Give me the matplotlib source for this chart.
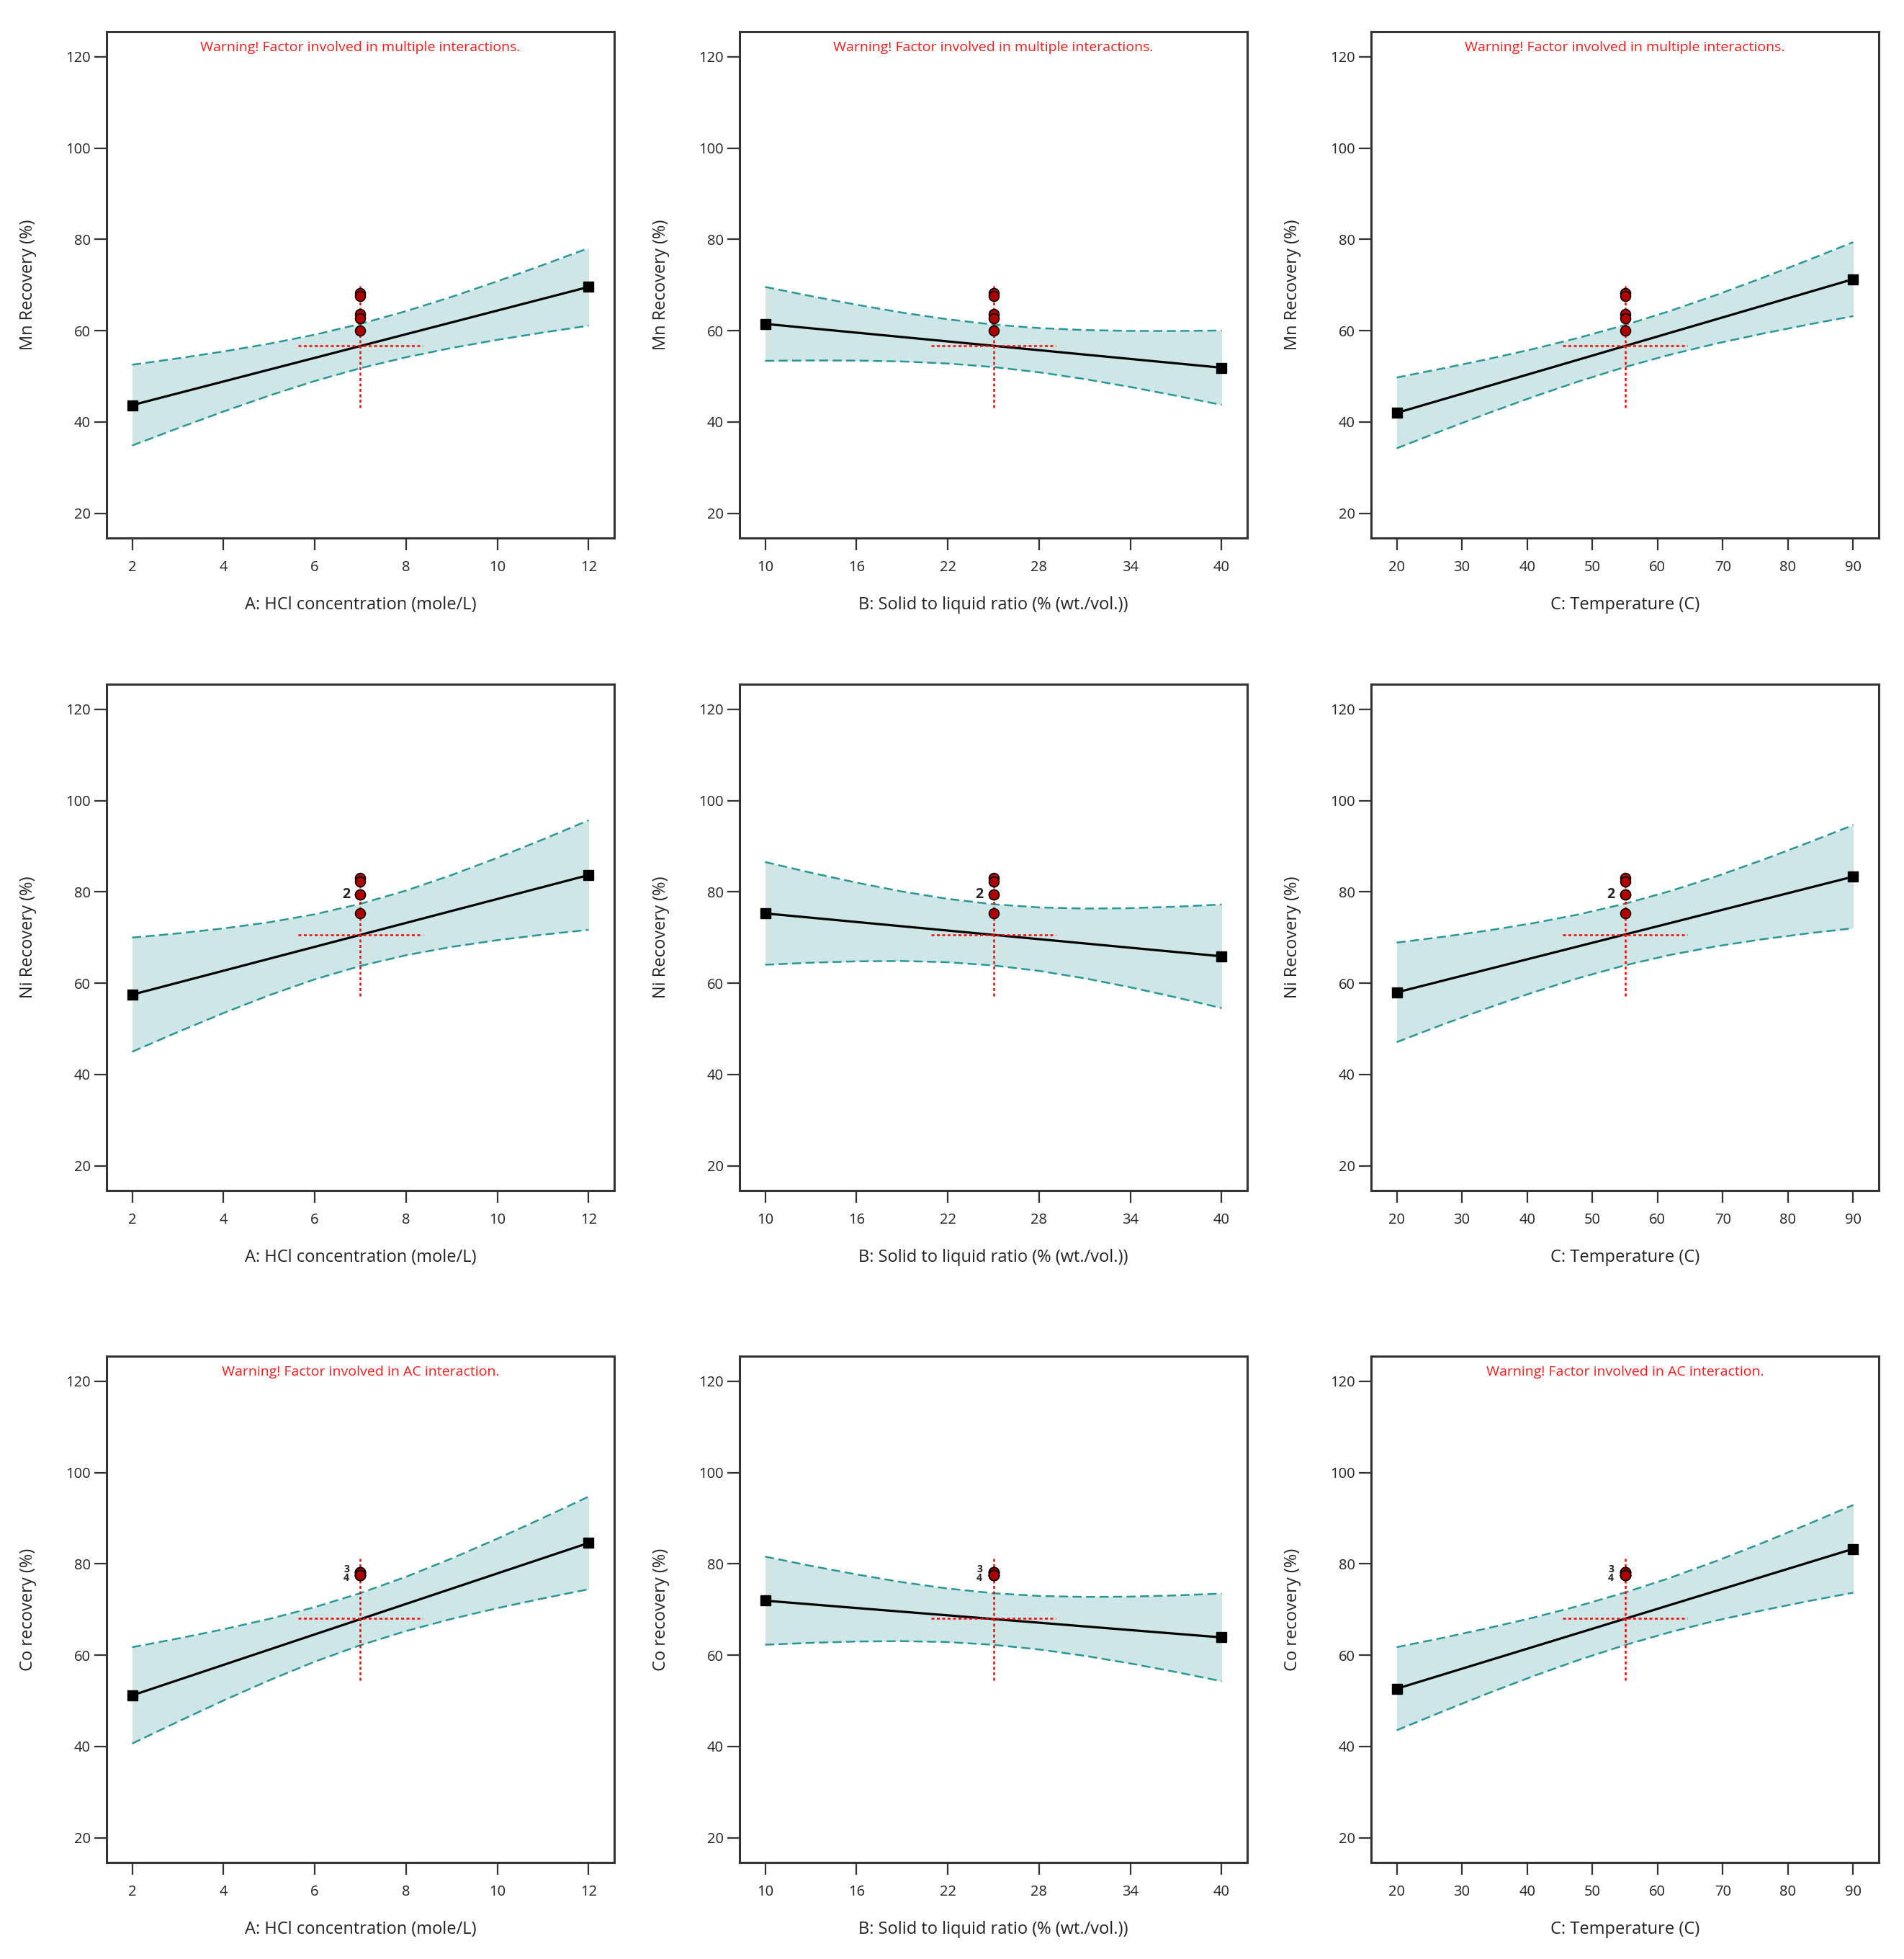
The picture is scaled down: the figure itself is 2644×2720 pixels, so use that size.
import matplotlib
matplotlib.use('Agg')
import matplotlib.pyplot as plt

plt.rcParams['font.family'] = ['Open Sans', 'DejaVu Sans']

# factor settings (band sample points along each factor)
a_x = [2, 3, 4, 5, 6, 7, 8, 9, 10, 11, 12]
b_x = [10, 13, 16, 19, 22, 25, 28, 31, 34, 37, 40]
c_x = [20, 27, 34, 41, 48, 55, 62, 69, 76, 83, 90]

a_ticks = [2, 4, 6, 8, 10, 12]
b_ticks = [10, 16, 22, 28, 34, 40]
c_ticks = [20, 30, 40, 50, 60, 70, 80, 90]
y_ticks = [20, 40, 60, 80, 100, 120]

x_labels = ['A: HCl concentration (mole/L)',
            'B: Solid to liquid ratio (% (wt./vol.))',
            'C: Temperature (C)']
y_labels = ['Mn Recovery (%)', 'Ni Recovery (%)', 'Co recovery (%)']
centres = [7, 25, 55]

# predicted line end values (low, high) per response / factor
mn_line = [[43.7, 69.6], [61.5, 51.9], [42.0, 71.3]]
ni_line = [[57.5, 83.7], [75.3, 65.9], [58.0, 83.35]]
co_line = [[51.2, 84.6], [71.95, 63.9], [52.66, 83.3]]

# centre prediction
mn_centre = 56.7
ni_centre = 70.65
co_centre = 68.0

# 95% CI bands
mn_upper = [[52.55, 53.94, 55.46, 57.15, 59.13, 61.50, 64.29, 67.43, 70.83, 74.41, 78.10],
            [69.60, 67.59, 65.70, 63.97, 62.50, 61.35, 60.58, 60.15, 59.96, 59.95, 60.05],
            [49.75, 51.72, 53.79, 56.02, 58.49, 61.25, 64.37, 67.83, 71.54, 75.41, 79.40]]
mn_lower = [[34.85, 38.64, 42.30, 45.79, 48.99, 51.80, 54.19, 56.23, 58.01, 59.61, 61.10],
            [53.40, 53.49, 53.46, 53.27, 52.82, 52.05, 50.90, 49.41, 47.68, 45.77, 43.75],
            [34.25, 38.14, 41.93, 45.56, 48.95, 52.05, 54.79, 57.19, 59.34, 61.33, 63.20]]
ni_upper = [[70.00, 70.92, 72.01, 73.35, 75.10, 77.40, 80.30, 83.71, 87.48, 91.51, 95.70],
            [86.55, 84.22, 82.04, 80.09, 78.48, 77.30, 76.61, 76.36, 76.45, 76.77, 77.25],
            [68.90, 70.15, 71.55, 73.18, 75.10, 77.43, 80.21, 83.41, 86.96, 90.73, 94.65]]
ni_lower = [[45.00, 49.32, 53.47, 57.37, 60.86, 63.80, 66.14, 67.97, 69.44, 70.65, 71.70],
            [64.05, 64.50, 64.80, 64.87, 64.60, 63.90, 62.71, 61.08, 59.11, 56.91, 54.55],
            [47.10, 50.93, 54.59, 58.04, 61.18, 63.93, 66.23, 68.09, 69.62, 70.91, 72.05]]
co_upper = [[61.75, 63.65, 65.68, 67.94, 70.53, 73.60, 77.18, 81.20, 85.53, 90.07, 94.75],
            [81.60, 79.57, 77.70, 76.00, 74.60, 73.58, 72.98, 72.77, 72.83, 73.10, 73.50],
            [61.76, 63.78, 65.93, 68.25, 70.84, 73.73, 76.99, 80.63, 84.54, 88.66, 92.90]]
co_lower = [[40.65, 45.43, 50.08, 54.50, 58.59, 62.20, 65.30, 67.96, 70.31, 72.45, 74.45],
            [62.30, 62.71, 63.00, 63.08, 62.88, 62.28, 61.26, 59.87, 58.19, 56.32, 54.30],
            [43.56, 47.66, 51.65, 55.45, 59.00, 62.23, 65.09, 67.59, 69.80, 71.82, 73.70]]

# centre-point runs
mn_runs = [68.3, 67.6, 63.6, 62.7, 60.0]
ni_runs = [83.0, 82.2, 79.4, 79.4, 75.3]
co_runs = [78.2, 78.2, 78.2, 77.6, 77.6, 77.6, 77.6]

mn_warn = ['Warning! Factor involved in multiple interactions.'] * 3
ni_warn = [None, None, None]
co_warn = ['Warning! Factor involved in AC interaction.', None,
           'Warning! Factor involved in AC interaction.']

# run count labels: (value, text, dy in points)
mn_counts = []
ni_counts = [(79.4, '2', 0)]
co_counts = [(78.2, '3', 3), (77.6, '4', -3)]

xs = [a_x, b_x, c_x]
xticks = [a_ticks, b_ticks, c_ticks]

rows = [
    (mn_line, mn_centre, mn_upper, mn_lower, mn_runs, mn_warn, mn_counts),
    (ni_line, ni_centre, ni_upper, ni_lower, ni_runs, ni_warn, ni_counts),
    (co_line, co_centre, co_upper, co_lower, co_runs, co_warn, co_counts),
]

W, H = 2644, 2720
fig = plt.figure(figsize=(W / 100, H / 100), dpi=100)
col_left = [148, 1027, 1904]
row_top = [44, 950, 1883]
aw, ah = 705, 703

fill_c = '#cfe6e6'
edge_c = '#2a9797'
spine_c = '#333333'

for r, (line, centre, upper, lower, runs, warns, counts) in enumerate(rows):
    for c in range(3):
        ax = fig.add_axes([col_left[c] / W, 1 - (row_top[r] + ah) / H, aw / W, ah / H])
        x = xs[c]
        lo, hi = x[0], x[-1]
        pad = 0.056 * (hi - lo)
        ax.set_xlim(lo - pad, hi + pad)
        ax.set_ylim(14.6, 125.5)

        ax.fill_between(x, lower[c], upper[c], color=fill_c, lw=0, zorder=1)
        ax.plot(x, upper[c], color=edge_c, lw=1.8, ls=(0, (5, 2.5)), zorder=2)
        ax.plot(x, lower[c], color=edge_c, lw=1.8, ls=(0, (5, 2.5)), zorder=2)
        ax.plot([lo, hi], line[c], color='black', lw=2.3, zorder=3)
        ax.plot([lo, hi], line[c], ls='none', marker='s', ms=10.5, color='black', zorder=5)

        xc = centres[c]
        hx = 0.122 * (hi - lo + 2 * pad)
        hy = 0.122 * (125.5 - 14.6)
        ax.plot([xc, xc], [centre - hy, centre + hy], color='red', lw=1.8,
                ls=(0, (1.6, 1.4)), zorder=4)
        ax.plot([xc - hx, xc + hx], [centre, centre], color='red', lw=1.8,
                ls=(0, (1.6, 1.4)), zorder=4)

        ax.plot([xc] * len(runs), runs, ls='none', marker='o', ms=10,
                mfc='#b30000', mec='black', mew=1.2, zorder=6)
        for val, txt, dy in counts:
            fs = 14 if len(counts) == 1 else 10
            ax.annotate(txt, (xc, val), xytext=(-14, dy), textcoords='offset points',
                        ha='center', va='center', fontsize=fs, fontweight='bold',
                        color='#222222', zorder=7)

        if warns[c]:
            ax.text(0.5, 0.982, warns[c], transform=ax.transAxes, ha='center', va='top',
                    fontsize=14, color='#ff1a1a')

        ax.set_xticks(xticks[c])
        ax.set_yticks(y_ticks)
        ax.tick_params(direction='out', length=12, width=1.6, colors=spine_c,
                       labelsize=14.5, labelcolor='#222222')
        ax.tick_params(axis='x', pad=10)
        ax.tick_params(axis='y', pad=4)
        for s in ax.spines.values():
            s.set_linewidth(2.2)
            s.set_color(spine_c)
        ax.set_xlabel(x_labels[c], fontsize=17, color='#222222', labelpad=22)
        ax.set_ylabel(y_labels[r], fontsize=17, color='#222222', labelpad=29)

fig.savefig('out.png', dpi=100, facecolor='white')
